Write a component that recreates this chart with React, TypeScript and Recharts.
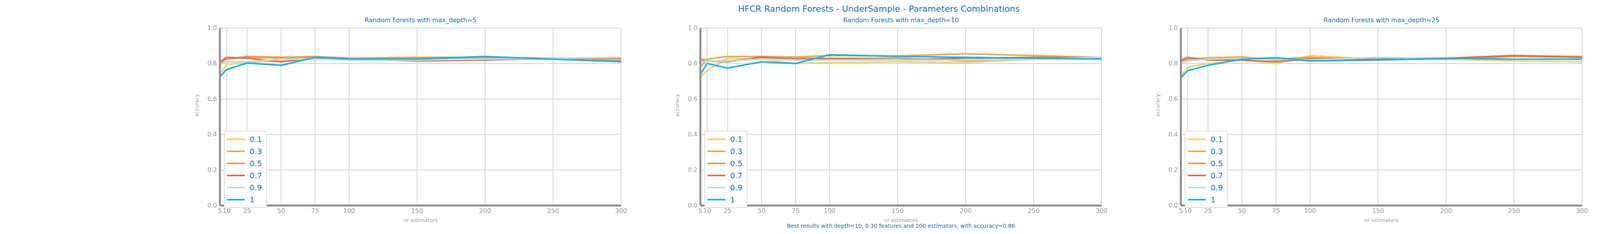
import React from "react";
import { LineChart, Line, XAxis, YAxis, CartesianGrid, Label } from "recharts";

const estimators = [5, 10, 25, 50, 75, 100, 150, 200, 250, 300];
const yTicks = [0, 0.2, 0.4, 0.6, 0.8, 1.0];
const featureLabels = ["0.1", "0.3", "0.5", "0.7", "0.9", "1"];
const colors = ["#f0d373", "#e8ac4a", "#e39e5c", "#d9705a", "#bddde0", "#22b0e6"];
const depths = [5, 10, 25];

// accuracy per max_features, one list per depth
const depth5 = [
  [0.74, 0.795, 0.805, 0.815, 0.83, 0.825, 0.825, 0.83, 0.825, 0.835],
  [0.8, 0.825, 0.835, 0.83, 0.835, 0.83, 0.835, 0.835, 0.825, 0.82],
  [0.805, 0.825, 0.84, 0.835, 0.84, 0.83, 0.83, 0.835, 0.83, 0.815],
  [0.81, 0.835, 0.83, 0.81, 0.83, 0.825, 0.815, 0.82, 0.83, 0.83],
  [0.795, 0.81, 0.81, 0.825, 0.825, 0.82, 0.82, 0.825, 0.83, 0.835],
  [0.725, 0.767, 0.803, 0.79, 0.835, 0.826, 0.826, 0.84, 0.825, 0.81],
];
const depth10 = [
  [0.725, 0.76, 0.83, 0.825, 0.8, 0.805, 0.81, 0.805, 0.825, 0.83],
  [0.78, 0.825, 0.84, 0.84, 0.837, 0.845, 0.843, 0.855, 0.845, 0.835],
  [0.81, 0.815, 0.815, 0.83, 0.83, 0.83, 0.83, 0.815, 0.83, 0.83],
  [0.825, 0.815, 0.81, 0.837, 0.825, 0.825, 0.82, 0.83, 0.835, 0.832],
  [0.81, 0.815, 0.815, 0.825, 0.82, 0.82, 0.82, 0.82, 0.825, 0.835],
  [0.74, 0.8, 0.775, 0.81, 0.8, 0.85, 0.84, 0.835, 0.83, 0.825],
];
const depth25 = [
  [0.73, 0.78, 0.8, 0.82, 0.8, 0.845, 0.825, 0.825, 0.815, 0.81],
  [0.81, 0.825, 0.832, 0.838, 0.82, 0.83, 0.825, 0.83, 0.845, 0.84],
  [0.81, 0.825, 0.825, 0.83, 0.825, 0.835, 0.825, 0.825, 0.84, 0.835],
  [0.82, 0.835, 0.82, 0.82, 0.81, 0.825, 0.825, 0.83, 0.845, 0.835],
  [0.795, 0.815, 0.825, 0.83, 0.825, 0.82, 0.835, 0.83, 0.825, 0.825],
  [0.72, 0.76, 0.79, 0.825, 0.833, 0.815, 0.82, 0.83, 0.825, 0.825],
];
const panels = [depth5, depth10, depth25];

const FONT = "'DejaVu Sans', sans-serif";
const TITLE = "#1f6fa3";
const GREY = "#999999";

function rows(series: number[][]) {
  return estimators.map((n, i) => {
    const r: Record<string, number> = { n };
    series.forEach((s, k) => (r["f" + k] = s[i]));
    return r;
  });
}

function LegendBox() {
  return (
    <div style={{ border: "2px solid #dddddd", borderRadius: 4, background: "#fff", padding: "4px 8px 4px 6px", width: 92 }}>
      {featureLabels.map((l, k) => (
        <div key={l} style={{ display: "flex", alignItems: "center", height: 31 }}>
          <span style={{ width: 46, height: 4, background: colors[k], display: "inline-block", marginRight: 12 }} />
          <span style={{ color: TITLE, fontSize: 20, fontFamily: FONT }}>{l}</span>
        </div>
      ))}
    </div>
  );
}

function Panel({ idx }: { idx: number }) {
  const left = 480 + idx * 1230;
  return (
    <div style={{ position: "absolute", left, top: 0, width: 1140, height: 600 }}>
      <div style={{ position: "absolute", left: 83, width: 1027, top: 42, textAlign: "center", color: TITLE, fontSize: 16, fontFamily: FONT }}>
        Random Forests with max_depth={depths[idx]}
      </div>
      <LineChart width={1140} height={600} data={rows(panels[idx])} margin={{ top: 72, right: 30, left: 33, bottom: 33 }}>
        <CartesianGrid stroke="#d3d3d3" strokeWidth={2} verticalValues={estimators} horizontalValues={yTicks} />
        <XAxis dataKey="n" type="number" domain={[5, 300]} ticks={estimators} interval={0} minTickGap={0} height={40}
          tick={{ fill: GREY, fontSize: 16, fontFamily: FONT }} tickLine={false} axisLine={{ stroke: "#8e8e92", strokeWidth: 5 }}>
          <Label value="nr estimators" position="insideBottom" offset={-2} fill={GREY} fontSize={13} fontFamily={FONT} />
        </XAxis>
        <YAxis type="number" domain={[0, 1]} ticks={yTicks} width={50} tickFormatter={(v) => v.toFixed(1)}
          tick={{ fill: GREY, fontSize: 15, fontFamily: FONT }} tickLine={false} axisLine={{ stroke: "#8e8e92", strokeWidth: 5 }}>
          <Label value="accuracy" angle={-90} position="insideLeft" offset={-10} fill={GREY} fontSize={13} fontFamily={FONT} />
        </YAxis>
        {featureLabels.map((l, k) => (
          <Line key={l} dataKey={"f" + k} name={l} stroke={colors[k]} strokeWidth={4} dot={false} isAnimationActive={false} />
        ))}
      </LineChart>
      <div style={{ position: "absolute", left: 93, top: 335 }}>
        <LegendBox />
      </div>
    </div>
  );
}

export default function App() {
  return (
    <div style={{ position: "absolute", left: 0, top: 0, width: 4500, height: 600, background: "#fff" }}>
      <div style={{ position: "absolute", top: 10, width: 4500, textAlign: "center", color: TITLE, fontSize: 22, fontFamily: FONT }}>
        HFCR Random Forests - UnderSample - Parameters Combinations
      </div>
      {[0, 1, 2].map((i) => <Panel key={i} idx={i} />)}
      <div style={{ position: "absolute", left: 1793, width: 1027, top: 571, textAlign: "center", color: TITLE, fontSize: 14, fontFamily: FONT }}>
        Best results with depth=10, 0.30 features and 200 estimators, with accuracy=0.86
      </div>
    </div>
  );
}
